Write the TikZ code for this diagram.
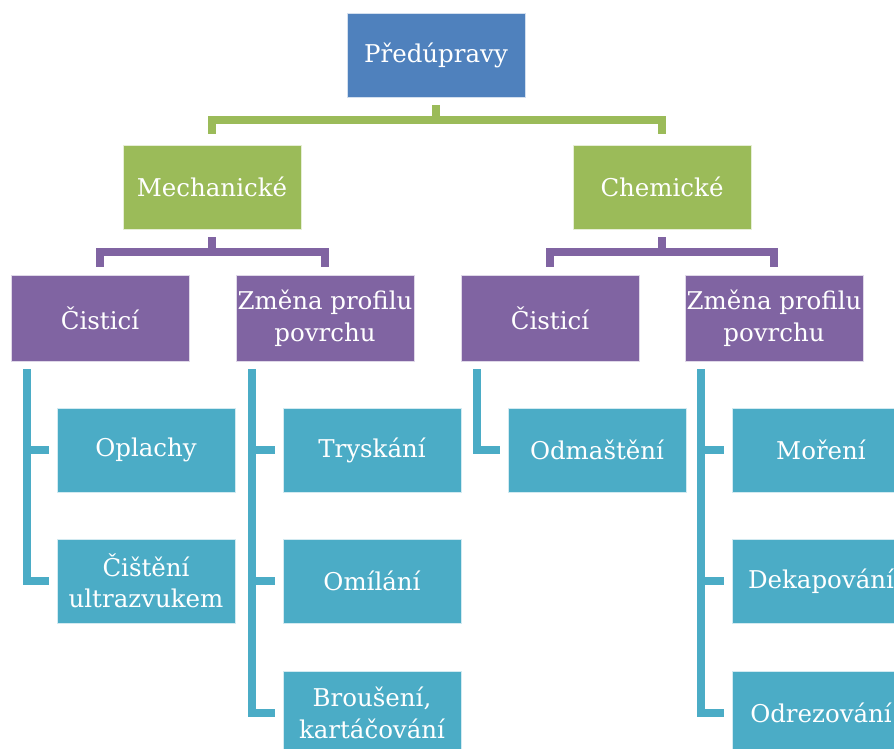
\documentclass[tikz,border=0pt]{standalone}
\usepackage{fontspec}
\newfontfamily\boxfont{DejaVu Serif}
\usetikzlibrary{calc}
\definecolor{rootblue}{HTML}{4F81BD}
\definecolor{levgreen}{HTML}{9BBB59}
\definecolor{levpurple}{HTML}{8064A2}
\definecolor{levcyan}{HTML}{4BACC6}
\tikzset{
  box/.style={rectangle,draw=white!75!#1,line width=0.4pt,fill=#1,text=white,
    minimum width=4.45cm,minimum height=2.1cm,inner sep=1pt,outer sep=0pt,
    align=center,font=\boxfont\fontsize{17.4}{22.5}\selectfont},
  link/.style={draw=#1,line width=5.7pt}
}
\begin{document}
\begin{tikzpicture}[x=0.025cm,y=-0.025cm]
\clip (0,0) rectangle (894,749);
% nodes
\node[box=rootblue] (root) at (436,55) {Předúpravy};
\node[box=levgreen] (mech) at (212,187) {Mechanické};
\node[box=levgreen] (chem) at (662,187) {Chemické};

\node[box=levpurple,minimum height=2.15cm] (mcist) at (100,318) {Čisticí};
\node[box=levpurple,minimum height=2.15cm] (mprof) at (325,318) {Změna profilu\\povrchu};
\node[box=levpurple,minimum height=2.15cm] (ccist) at (550,318) {Čisticí};
\node[box=levpurple,minimum height=2.15cm] (cprof) at (774,318) {Změna profilu\\povrchu};

\node[box=levcyan] (oplachy) at (146,450) {Oplachy};
\node[box=levcyan] (ultra) at (146,581) {Čištění\\ultrazvukem};
\node[box=levcyan] (trysk) at (372,450) {Tryskání};
\node[box=levcyan] (omil) at (372,581) {Omílání};
\node[box=levcyan] (brous) at (372,713) {Broušení,\\kartáčování};
\node[box=levcyan] (odmast) at (597,450) {Odmaštění};
\node[box=levcyan] (moreni) at (821,450) {Moření};
\node[box=levcyan] (dekap) at (821,581) {Dekapování};
\node[box=levcyan] (odrez) at (821,713) {Odrezování};

% green level
\coordinate (gbar) at ($(root.south)+(0,23)$);
\draw[link=levgreen] ($(root.south)+(0,8)$) -- (gbar);
\draw[link=levgreen] ($(mech.north)+(0,-11)$) |- (gbar) -| ($(chem.north)+(0,-11)$);

% purple level
\coordinate (mbar) at ($(mech.south)+(0,23)$);
\coordinate (cbar) at ($(chem.south)+(0,23)$);
\draw[link=levpurple] ($(mech.south)+(0,8)$) -- (mbar);
\draw[link=levpurple] ($(mcist.north)+(0,-8)$) |- (mbar) -| ($(mprof.north)+(0,-8)$);
\draw[link=levpurple] ($(chem.south)+(0,8)$) -- (cbar);
\draw[link=levpurple] ($(ccist.north)+(0,-8)$) |- (cbar) -| ($(cprof.north)+(0,-8)$);

% cyan level
\coordinate (l1) at ($(mcist.south west)+(16,8)$);
\coordinate (l2) at ($(mprof.south west)+(16,8)$);
\coordinate (l3) at ($(ccist.south west)+(16,8)$);
\coordinate (l4) at ($(cprof.south west)+(16,8)$);

\draw[link=levcyan] (l1) |- ($(ultra.west)+(-8,0)$);
\draw[link=levcyan] (l1 |- oplachy.west) -- ($(oplachy.west)+(-8,0)$);

\draw[link=levcyan] (l2) |- ($(brous.west)+(-8,0)$);
\draw[link=levcyan] (l2 |- trysk.west) -- ($(trysk.west)+(-8,0)$);
\draw[link=levcyan] (l2 |- omil.west) -- ($(omil.west)+(-8,0)$);

\draw[link=levcyan] (l3) |- ($(odmast.west)+(-8,0)$);

\draw[link=levcyan] (l4) |- ($(odrez.west)+(-8,0)$);
\draw[link=levcyan] (l4 |- moreni.west) -- ($(moreni.west)+(-8,0)$);
\draw[link=levcyan] (l4 |- dekap.west) -- ($(dekap.west)+(-8,0)$);
\end{tikzpicture}
\end{document}
